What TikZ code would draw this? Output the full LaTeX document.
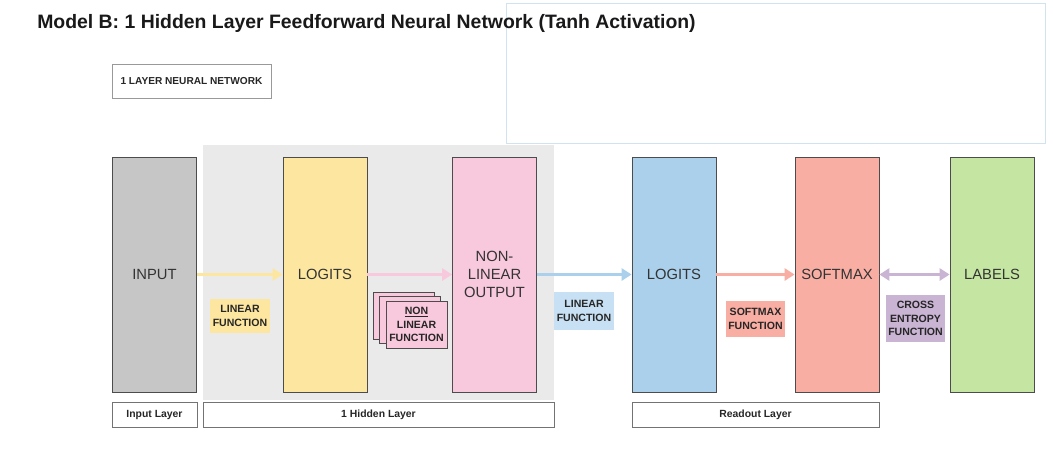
\documentclass[tikz,border=0pt]{standalone}
\usepackage{fontspec}
\setmainfont{Liberation Sans}
\usetikzlibrary{arrows.meta}

\definecolor{inputgray}{HTML}{C6C6C6}
\definecolor{logityellow}{HTML}{FDE7A0}
\definecolor{outpink}{HTML}{F8C8DC}
\definecolor{readblue}{HTML}{AAD0EC}
\definecolor{softsalmon}{HTML}{F9AEA4}
\definecolor{labelgreen}{HTML}{C4E6A2}
\definecolor{losspurple}{HTML}{CAB4D4}
\definecolor{hiddengray}{HTML}{EAEAEA}
\definecolor{panelblue}{HTML}{D2E3F0}

\tikzset{
  layerbox/.style={draw=black!70, line width=0.6pt, minimum width=2.1cm, minimum height=5.875cm,
    inner sep=0pt, align=center, text=black!80, font=\fontsize{10.5}{12.8}\selectfont},
  tagbox/.style={inner sep=0pt, align=center, text=black!85, font=\bfseries\fontsize{7.5}{9.8}\selectfont},
  groupbox/.style={draw=black!55, line width=0.5pt, fill=white, minimum height=0.625cm,
    inner sep=0pt, text=black!85, font=\bfseries\fontsize{7.4}{8}\selectfont},
  flow/.style={line width=2.8pt, -{Triangle[length=7pt,width=8.5pt]}},
}

\begin{document}
\begin{tikzpicture}[x=0.025cm, y=-0.025cm]
	%%%%% START %%%%%
	\useasboundingbox[fill=white] (0, 0) rectangle (1053, 462);
	
	\draw[panelblue, fill=white, line width=0.5pt] (506, 3) rectangle (1045, 143);
	\node[anchor=west, inner sep=0pt, text=black!90, font=\bfseries\fontsize{13.8}{16}\selectfont] (title) at (37, 23)
		{Model B: 1 Hidden Layer Feedforward Neural Network (Tanh Activation)};
	
	\node[draw=black!40, line width=0.5pt, minimum width=3.975cm, minimum height=0.85cm, inner sep=0pt,
		text=black!85, font=\bfseries\fontsize{7.2}{8}\selectfont] (netname) at (191.5, 81) {1 LAYER NEURAL NETWORK};
	
	% hidden layer shading
	\fill[hiddengray] (203, 145) rectangle (554, 400);
	
	% layers
	\node[layerbox, fill=inputgray] (input) at (154.5, 274.5) {INPUT};
	\node[layerbox, fill=logityellow] (logits) at (325, 274.5) {LOGITS};
	\node[layerbox, fill=outpink] (nonlin) at (494.5, 274.5) {NON-\\LINEAR\\OUTPUT};
	\node[layerbox, fill=readblue] (readout) at (674, 274.5) {LOGITS};
	\node[layerbox, fill=softsalmon] (softmax) at (837, 274.5) {SOFTMAX};
	\node[layerbox, fill=labelgreen] (labels) at (992, 274.5) {LABELS};
	
	% connectors
	\draw[flow, logityellow] (input) -- (logits);
	\draw[flow, outpink] (logits) -- (nonlin);
	\draw[flow, readblue] (nonlin) -- (readout);
	\draw[flow, softsalmon] (readout) -- (softmax);
	\draw[flow, losspurple, {Triangle[length=7pt,width=8.5pt]}-{Triangle[length=7pt,width=8.5pt]}] (softmax) -- (labels);
	
	% function tags
	\node[tagbox, fill=logityellow, minimum width=1.5cm, minimum height=0.85cm] (linfn) at (240, 316) {LINEAR\\FUNCTION};
	\draw[draw=black!70, fill=outpink, line width=0.5pt] (373, 292) rectangle (434, 339);
	\draw[draw=black!70, fill=outpink, line width=0.5pt] (379.5, 296.5) rectangle (440.5, 343.5);
	\node[tagbox, draw=black!70, fill=outpink, line width=0.5pt, minimum width=1.525cm, minimum height=1.175cm] (nonlinfn)
		at (416.5, 324.5) {\underline{NON}\\LINEAR\\FUNCTION};
	\node[tagbox, fill=readblue!65, minimum width=1.5cm, minimum height=0.95cm] (linfnb) at (584, 311) {LINEAR\\FUNCTION};
	\node[tagbox, fill=softsalmon, minimum width=1.475cm, minimum height=0.9cm] (softfn) at (755.5, 319) {SOFTMAX\\FUNCTION};
	\node[tagbox, fill=losspurple, minimum width=1.475cm, minimum height=1.175cm] (lossfn) at (915.5, 318.5) {CROSS\\ENTROPY\\FUNCTION};
	
	% layer groups
	\node[groupbox, minimum width=2.125cm] (ingroup) at (154.5, 414.5) {Input Layer};
	\node[groupbox, minimum width=8.775cm] (hidgroup) at (378.5, 414.5) {1 Hidden Layer};
	\node[groupbox, minimum width=6.175cm] (readgroup) at (755.5, 414.5) {Readout Layer};
	%%%%% END %%%%%
\end{tikzpicture}
\end{document}
